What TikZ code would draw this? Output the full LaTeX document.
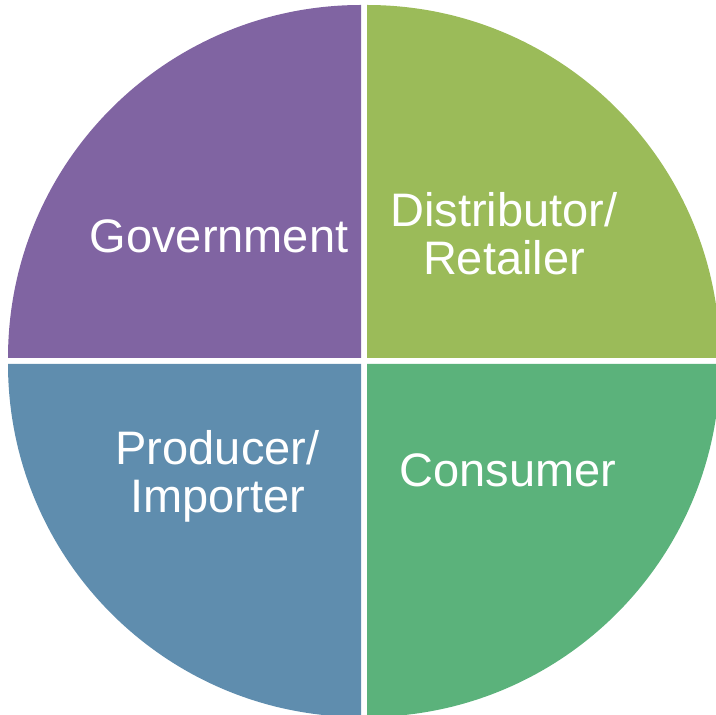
\documentclass[tikz,border=0pt]{standalone}
\usepackage{fontspec}
\setmainfont{Liberation Sans}
\definecolor{qpurple}{HTML}{8064A2}
\definecolor{qolive}{HTML}{9BBB59}
\definecolor{qblue}{HTML}{5F8DAE}
\definecolor{qgreen}{HTML}{5BB27B}
\begin{document}
\begin{tikzpicture}[x=1pt,y=1pt,
  lbl/.style={text=white,font=\fontsize{47}{48}\selectfont,align=center,inner sep=0pt}]
\useasboundingbox (0,0) rectangle (716,715);
\clip (0,0) rectangle (716,715);
\fill[qpurple] (361,357) -- ++(-353,0) arc[start angle=180,end angle=90,radius=353] -- cycle;
\fill[qolive] (367,357) -- ++(0,353) arc[start angle=90,end angle=0,radius=353] -- cycle;
\fill[qblue] (361,351) -- ++(-353,0) arc[start angle=180,end angle=270,radius=353] -- cycle;
\fill[qgreen] (367,351) -- ++(0,-353) arc[start angle=270,end angle=360,radius=353] -- cycle;
\node[lbl,anchor=base] (gov) at (219,462) {Government};
\node[lbl] (dist) at (504,481) {Distributor/\\Retailer};
\node[lbl] (prod) at (217.5,238.5) {Producer/\\Importer};
\node[lbl,anchor=base] (cons) at (508,228) {Consumer};
\end{tikzpicture}
\end{document}
